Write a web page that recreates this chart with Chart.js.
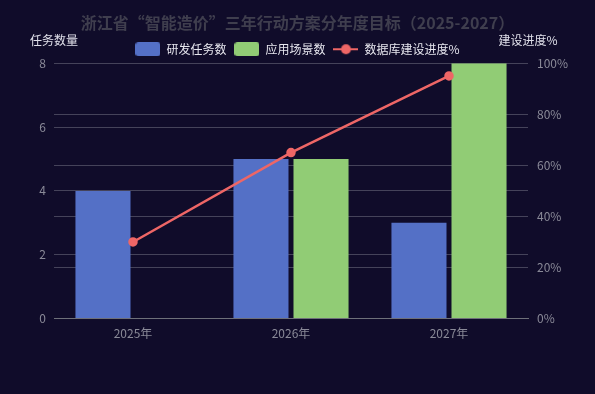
<!DOCTYPE html>
<html>
<head>
<meta charset="utf-8">
<script src="https://cdn.jsdelivr.net/npm/chart.js@4/dist/chart.umd.min.js"></script>
<style>
  html, body { margin: 0; padding: 0; background: #100c2a; }
  #wrap { width: 595px; height: 394px; }
</style>
</head>
<body>
<div id="wrap"><canvas id="myChart"></canvas></div>
<script>
const years = ['2025年', '2026年', '2027年'];
const rdTasks = [4, 5, 3];
const scenes = [0, 5, 8];
const progress = [30, 65, 95];
const leftTicks = [0, 2, 4, 6, 8];
const rightTicks = [0, 20, 40, 60, 80, 100];

const FONT = "'Noto Sans CJK SC', 'Noto Sans', sans-serif";
const BLUE = '#5470c6', GREEN = '#91cc75', RED = '#ee6666';

// little legend icons
function boxIcon(color) {
  const c = document.createElement('canvas');
  c.width = 25; c.height = 14;
  const g = c.getContext('2d');
  g.fillStyle = color;
  g.beginPath();
  g.roundRect(0, 0, 25, 14, 3);
  g.fill();
  return c;
}
function lineIcon(color) {
  const c = document.createElement('canvas');
  c.width = 25; c.height = 14;
  const g = c.getContext('2d');
  g.strokeStyle = color;
  g.lineWidth = 2;
  g.beginPath(); g.moveTo(0, 7); g.lineTo(25, 7); g.stroke();
  g.fillStyle = color;
  g.beginPath(); g.arc(12.5, 7, 5, 0, Math.PI * 2); g.fill();
  return c;
}
const icons = [boxIcon(BLUE), boxIcon(GREEN), lineIcon(RED)];

// tighten the space under the legend row
const legendGap = {
  id: 'legendGap',
  afterInit(chart) {
    const lg = chart.legend;
    if (!lg) return;
    const fit = lg.fit;
    lg.fit = function () { fit.call(this); this.height -= 2; };
  }
};

const axisNames = {
  id: 'axisNames',
  afterDraw(chart) {
    const ctx = chart.ctx;
    const a = chart.chartArea;
    ctx.save();
    ctx.fillStyle = '#e0e0ea';
    ctx.font = '12px ' + FONT;
    ctx.textBaseline = 'middle';
    ctx.textAlign = 'center';
    ctx.fillText('任务数量', a.left, a.top - 23);
    ctx.fillText('建设进度%', a.right, a.top - 23);
    ctx.restore();
  }
};

const ctx = document.getElementById('myChart');
new Chart(ctx, {
  data: {
    labels: years,
    datasets: [{
      type: 'line',
      label: '数据库建设进度%',
      data: progress,
      yAxisID: 'y1',
      borderColor: RED,
      backgroundColor: RED,
      borderWidth: 2.5,
      pointRadius: 3.5,
      pointHoverRadius: 3.5,
      order: 0
    }, {
      type: 'bar',
      label: '研发任务数',
      data: rdTasks,
      yAxisID: 'y',
      backgroundColor: BLUE,
      categoryPercentage: 0.76,
      barPercentage: 0.917,
      order: 1
    }, {
      type: 'bar',
      label: '应用场景数',
      data: scenes,
      yAxisID: 'y',
      backgroundColor: GREEN,
      categoryPercentage: 0.76,
      barPercentage: 0.917,
      order: 1
    }]
  },
  options: {
    responsive: true,
    maintainAspectRatio: false,
    animation: false,
    layout: { padding: { top: 9, bottom: 53, left: 0, right: 0 } },
    plugins: {
      title: {
        display: true,
        text: '浙江省“智能造价”三年行动方案分年度目标（2025-2027）',
        color: '#3f3e4e',
        font: { family: FONT, size: 16, weight: 'bold' },
        padding: { top: 4, bottom: 3 }
      },
      legend: {
        display: true,
        labels: {
          color: '#e6e6ee',
          font: { family: FONT, size: 12 },
          usePointStyle: true,
          pointStyleWidth: 25,
          boxHeight: 14,
          padding: 8,
          sort: (a, b) => [1, 2, 0].indexOf(a.datasetIndex) - [1, 2, 0].indexOf(b.datasetIndex),
          generateLabels: (chart) => chart.data.datasets.map((ds, i) => ({
            text: ds.label,
            fontColor: '#e6e6ee',
            pointStyle: i === 0 ? icons[2] : icons[i - 1],
            datasetIndex: i,
            lineWidth: 0,
            hidden: false
          }))
        }
      },
      tooltip: { enabled: false }
    },
    scales: {
      x: {
        grid: { display: false },
        border: { color: '#6e7079' },
        ticks: { color: '#8a8a98', font: { family: FONT, size: 12 }, padding: 0 }
      },
      y: {
        position: 'left',
        min: 0, max: 8,
        afterFit: (s) => { s.width = 54; },
        afterBuildTicks: (s) => { s.ticks = leftTicks.map(v => ({ value: v })); },
        grid: { color: '#45435a', drawTicks: false },
        border: { display: false },
        ticks: { color: '#8a8a98', font: { family: FONT, size: 12 }, padding: 8 }
      },
      y1: {
        position: 'right',
        min: 0, max: 100,
        afterFit: (s) => { s.width = 67; },
        afterBuildTicks: (s) => { s.ticks = rightTicks.map(v => ({ value: v })); },
        grid: { color: '#45435a', drawTicks: false },
        border: { display: false },
        ticks: {
          color: '#8a8a98', font: { family: FONT, size: 12 }, padding: 9,
          callback: (v) => v + '%'
        }
      }
    }
  },
  plugins: [legendGap, axisNames]
});
</script>
</body>
</html>
